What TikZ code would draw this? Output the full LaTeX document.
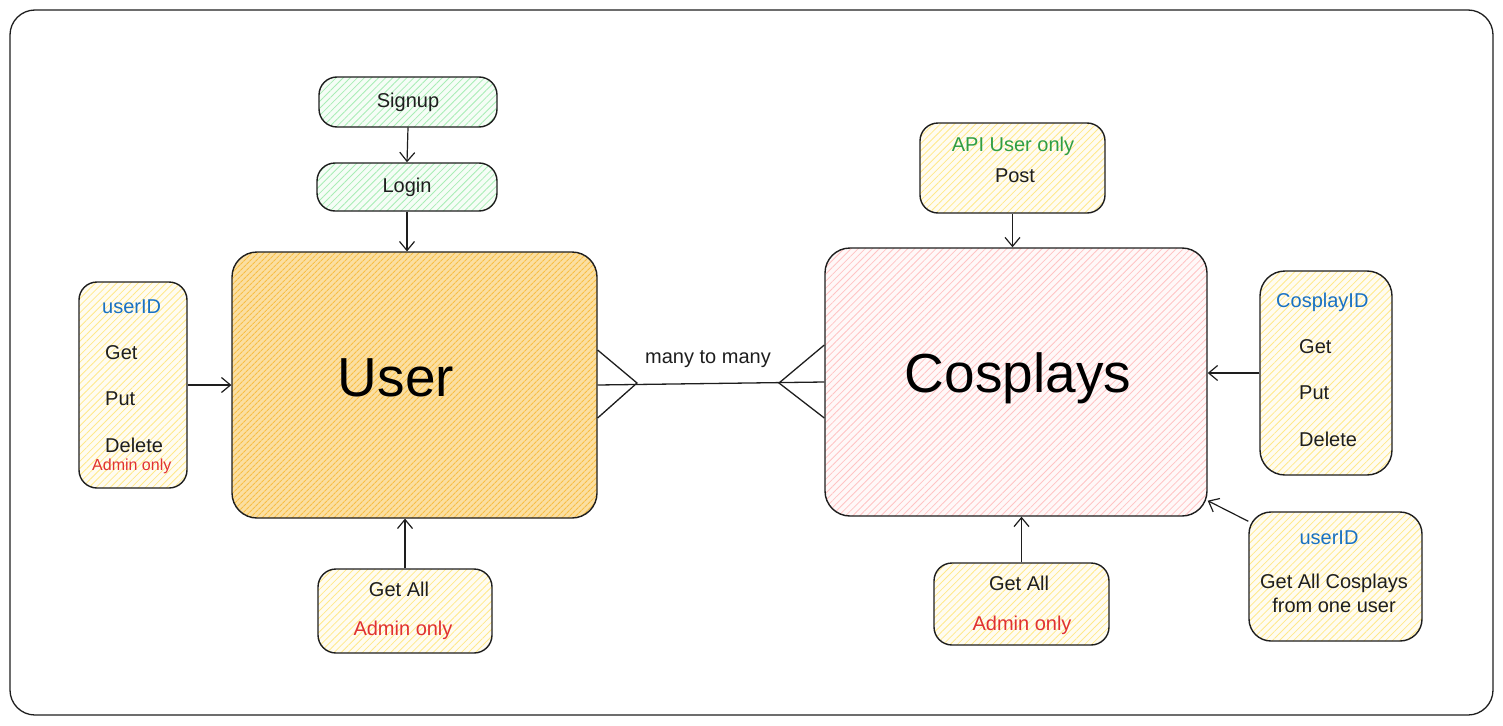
\documentclass[tikz,border=0pt]{standalone}
\usepackage{fontspec}
\setmainfont{Liberation Sans}
\usepackage{tikz}
\usetikzlibrary{arrows.meta,patterns.meta}

\definecolor{ink}{HTML}{1E1E1E}
\definecolor{idblue}{HTML}{1971C2}
\definecolor{adminred}{HTML}{E03131}
\definecolor{apigreen}{HTML}{2F9E44}
\definecolor{hyellow}{HTML}{FFE98A}
\definecolor{hgreen}{HTML}{A8EDB5}
\definecolor{horange}{HTML}{F8BE45}
\definecolor{hpink}{HTML}{FFC4C4}

\begin{document}
\begin{tikzpicture}[x=1pt,y=-1pt,
  box/.style={draw=ink,line width=1.4pt,rounded corners=18pt,inner sep=0pt},
  hatch/.style={preaction={fill=#1!12},pattern={Lines[angle=45,distance=5pt,line width=0.8pt]},pattern color=#1},
  txt/.style={font=\fontsize{20}{24}\selectfont,text=ink,inner sep=0pt},
  small/.style={font=\fontsize{16}{19}\selectfont,inner sep=0pt},
  big/.style={font=\fontsize{55}{62}\selectfont,text=black,inner sep=0pt},
  arr/.style={draw=ink,line width=1.2pt,-{Straight Barb[length=9pt,width=15pt]}},
  ln/.style={draw=ink,line width=1.3pt}]
  \useasboundingbox (0,0) rectangle (1503,725);
  \draw[ink,line width=1.3pt,rounded corners=25pt] (10,10) rectangle (1493,715);

  % user side
  \node[box,hatch=hgreen,minimum width=178pt,minimum height=50pt,txt] (signup) at (408,102) {Signup};
  \node[box,hatch=hgreen,minimum width=180pt,minimum height=48pt,txt] (login) at (407,187) {Login};
  \node[box,rounded corners=25pt,preaction={fill=horange!50},pattern={Lines[angle=45,distance=4pt,line width=1.2pt]},pattern color=horange,minimum width=365pt,minimum height=266pt] (user) at (414.5,385) {};
  \node[big] (usert) at (396,378) {User};
  \node[box,hatch=hyellow,minimum width=108pt,minimum height=206pt] (uidL) at (133,385) {};
  \node[txt,anchor=west,text=idblue] (uidLa) at (102,307) {userID};
  \node[txt,anchor=west] (uidLb) at (105,353) {Get};
  \node[txt,anchor=west] (uidLc) at (105,399) {Put};
  \node[txt,anchor=west] (uidLd) at (105,445) {Delete};
  \node[small,anchor=west,text=adminred] (uidLe) at (92,466) {Admin only};
  \node[box,hatch=hyellow,minimum width=174pt,minimum height=84pt] (getU) at (405,611) {};
  \node[txt] (getUa) at (399,589) {Get All};
  \node[txt,text=adminred] (getUb) at (403,630) {Admin only};

  % cosplay side
  \node[box,rounded corners=25pt,hatch=hpink,minimum width=382pt,minimum height=268pt] (cos) at (1016,382) {};
  \node[big] (cost) at (1018,378) {Cosplays};
  \node[box,hatch=hyellow,minimum width=185pt,minimum height=90pt] (api) at (1012.5,168) {};
  \node[txt,text=apigreen] (apia) at (1013,146) {API User only};
  \node[txt] (apib) at (1015,176) {Post};
  \node[box,rounded corners=25pt,hatch=hyellow,minimum width=132pt,minimum height=204pt] (cid) at (1326,373) {};
  \node[txt,anchor=west,text=idblue] (cida) at (1276,302) {CosplayID};
  \node[txt,anchor=west] (cidb) at (1299,347) {Get};
  \node[txt,anchor=west] (cidc) at (1299,393) {Put};
  \node[txt,anchor=west] (cidd) at (1299,439) {Delete};
  \node[box,rounded corners=22pt,hatch=hyellow,minimum width=173pt,minimum height=129pt] (uidR) at (1335.5,576.5) {};
  \node[txt,text=idblue] (uidRa) at (1329,538) {userID};
  \node[txt,align=center] (uidRb) at (1334,593) {Get All Cosplays\\from one user};
  \node[box,hatch=hyellow,minimum width=175pt,minimum height=82pt] (getC) at (1021.5,604) {};
  \node[txt] (getCa) at (1019,583) {Get All};
  \node[txt,text=adminred] (getCb) at (1022,625) {Admin only};

  % arrows
  \draw[arr] (signup.south) -- (login.north);
  \draw[arr] (login.south) -- (login.south |- user.north);
  \draw[arr] (uidL.east) -- (user.west);
  \draw[arr] (getU.north) -- (getU.north |- user.south);
  \draw[arr] (api.south) -- (api.south |- cos.north);
  \draw[arr] (cid.west) -- (cid.west -| cos.east);
  \draw[arr] ([yshift=-10pt]uidR.north west) -- ([yshift=16pt]cos.south east);
  \draw[arr] (getC.north) -- (getC.north |- cos.south);

  % many to many
  \coordinate (cfU) at (637,383);
  \coordinate (cfC) at (779,383);
  \draw[ln] (user.east) -- (cos.west);
  \draw[ln] ([yshift=35pt]user.east) -- (cfU) -- ([yshift=-33pt]user.east);
  \draw[ln] ([yshift=37pt]cos.west) -- (cfC) -- ([yshift=-36pt]cos.west);
  \node[font=\fontsize{20}{24}\selectfont,text=ink] (mtm) at (708,359) {many to many};
\end{tikzpicture}
\end{document}
